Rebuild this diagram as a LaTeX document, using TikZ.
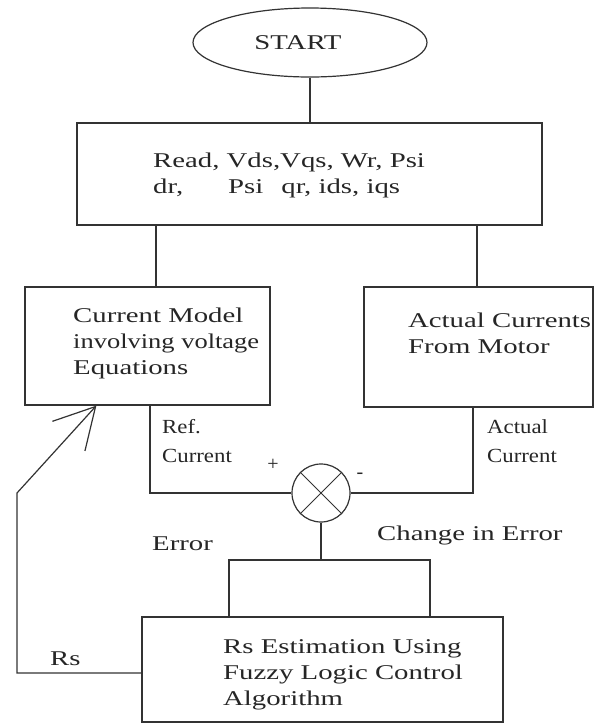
\documentclass[tikz,border=0pt]{standalone}
\usepackage{fontspec}
\setmainfont{Liberation Serif}
\newfontfamily\widef[FakeStretch=1.37]{Liberation Serif}
\newfontfamily\narrowf[FakeStretch=1.14]{Liberation Serif}
\usetikzlibrary{shapes.geometric,arrows.meta}
\begin{document}
\begin{tikzpicture}[x=1pt,y=-1pt,
  line/.style={draw=black!80,line width=1.2pt},
  boxnode/.style={line,rectangle,inner sep=0pt},
  maintext/.style={inner sep=0pt,anchor=base west,align=left,text=black!85,
    font=\widef\fontsize{21}{26}\selectfont},
  smalltext/.style={inner sep=0pt,anchor=base west,align=left,text=black!85,
    font=\narrowf\fontsize{20}{29}\selectfont},
  signtext/.style={inner sep=0pt,text=black!85,font=\fontsize{20}{20}\selectfont},
  fb/.style={line,-{Straight Barb[length=40pt,width=44pt,line width=1.2pt]}}]
\useasboundingbox (0,0) rectangle (595,724);
\fill[white] (0,0) rectangle (595,724);

% nodes
\node[line,ellipse,minimum width=234pt,minimum height=69pt,inner sep=0pt,
      text=black!85,font=\widef\fontsize{21}{21}\selectfont] (start) at (310,42.5) {START\hspace*{24pt}};
\node[boxnode,minimum width=465pt,minimum height=102pt] (read) at (309.5,174) {};
\node[boxnode,minimum width=245pt,minimum height=118pt] (lbox) at (147.5,346) {};
\node[boxnode,minimum width=229pt,minimum height=120pt] (rbox) at (478.5,347) {};
\node[line,circle,minimum size=58pt,inner sep=0pt] (sum) at (321,493) {};
\node[boxnode,minimum width=361pt,minimum height=105pt] (rs) at (322.5,669.5) {};

% texts (multi-line nodes: base = last line)
\node[maintext] (readtxt) at (153,193) {Read, Vds,Vqs, Wr, Psi\\dr,\hspace{45pt}Psi\hspace{18pt}qr, ids, iqs};
\node[maintext] (ltxt) at (73,374) {Current Model\\\scalebox{0.92}[1]{involving voltage}\\Equations};
\node[maintext] (rtxt) at (408,353) {Actual Currents\\From Motor};
\node[maintext] (rstxt) at (223,705) {Rs Estimation Using\\Fuzzy Logic Control\\Algorithm};
\node[smalltext] (reftxt) at (162,462) {Ref.\\Current};
\node[smalltext] (acttxt) at (487,462) {Actual\\Current};
\node[maintext] (errtxt) at (152,550) {Error};
\node[maintext] (cietxt) at (377,540) {Change in Error};
\node[maintext] (rslbl) at (50,665) {Rs};
\node[signtext] (plus) at (273,465) {+};
\node[signtext] (minus) at (360,476) {-};

% cross in summing circle
\draw[line,line width=1pt] (sum.north east) -- (sum.south west);
\draw[line,line width=1pt] (sum.north west) -- (sum.south east);

% connectors
\coordinate (j) at (321,560);
\coordinate (c1) at (17,673);
\coordinate (c2) at (17,493);
\draw[line] (start.south) -- (start.south |- read.north);
\draw[line] ([xshift=8.5pt]lbox.north) -- ([xshift=8.5pt]lbox.north |- read.south);
\draw[line] ([xshift=-1.5pt]rbox.north) -- ([xshift=-1.5pt]rbox.north |- read.south);
\draw[line] ([xshift=2.5pt]lbox.south) |- (sum.west);
\draw[line] ([xshift=-5.5pt]rbox.south) |- (sum.east);
\draw[line] (sum.south) -- (j);
\draw[line] ([xshift=-93.5pt]rs.north) |- (j);
\draw[line] ([xshift=107.5pt]rs.north) |- (j);
\draw[fb] ([yshift=-3.5pt]rs.west) -- (c1) -- (c2) -- ([xshift=72pt]lbox.south west);
\end{tikzpicture}
\end{document}
